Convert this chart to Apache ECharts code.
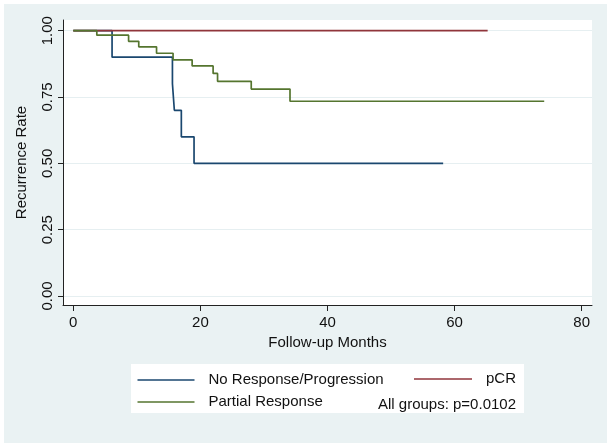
<!DOCTYPE html>
<html>
<head>
<meta charset="utf-8">
<script src="https://cdn.jsdelivr.net/npm/echarts@6/dist/echarts.min.js"></script>
<style>
  html, body { margin: 0; padding: 0; background: #ffffff; }
  #chart { position: absolute; left: 4px; top: 4px; width: 603px; height: 439px; }
</style>
</head>
<body>
<div id="chart"></div>
<script>
// ---- data ----
const noRespX = [0, 6.1, 15.6, 15.9, 17.0, 19.0, 58.2];
const noRespY = [1, 0.9, 0.8, 0.7, 0.6, 0.5, 0.5];
const partialX = [0, 3.7, 8.7, 10.3, 13.1, 15.7, 18.7, 22.0, 22.7, 28.0, 34.1, 74.1];
const partialY = [1, 0.983, 0.960, 0.939, 0.915, 0.890, 0.867, 0.839, 0.809, 0.780, 0.734, 0.734];
const pcrX = [0, 65.2];
const pcrY = [1, 1];
const xTicks = [0, 20, 40, 60, 80];
const yTicks = [0, 0.25, 0.5, 0.75, 1];
const seriesNames = ['No Response/Progression', 'pCR', 'Partial Response'];
const pText = 'All groups: p=0.0102';

const zip = (xs, ys) => xs.map((x, i) => [x, ys[i]]);
const FONT = '"Liberation Sans", Arial, sans-serif';
const TXT = '#111111';

const chart = echarts.init(document.getElementById('chart'), null, { renderer: 'canvas' });
chart.setOption({
  backgroundColor: '#eaf2f3',
  animation: false,
  textStyle: { fontFamily: FONT },
  graphic: [{
    type: 'rect', z: 0,
    shape: { x: 127, y: 360, width: 393, height: 49 },
    style: { fill: '#ffffff' }
  }],
  title: {
    text: pText, right: 91, top: 392, padding: 0, z: 5,
    textStyle: { fontFamily: FONT, fontSize: 15, fontWeight: 'normal', color: TXT, lineHeight: 17 }
  },
  legend: [{
    data: [seriesNames[0], seriesNames[2]],
    orient: 'vertical', left: 133.5, top: 368, padding: 0, z: 5,
    icon: 'rect', itemWidth: 57, itemHeight: 1.6, itemGap: 6,
    textStyle: { fontFamily: FONT, fontSize: 15, color: TXT, lineHeight: 16, padding: [0, 0, 0, 9] }
  }, {
    data: [seriesNames[1]],
    orient: 'vertical', left: 410, top: 367, padding: 0, z: 5,
    icon: 'rect', itemWidth: 58, itemHeight: 1.6,
    textStyle: { fontFamily: FONT, fontSize: 15, color: TXT, lineHeight: 16, padding: [0, 0, 0, 9] }
  }],
  grid: {
    left: 59, right: 15, top: 16, bottom: 138,
    show: true, backgroundColor: '#ffffff', borderWidth: 0
  },
  xAxis: {
    type: 'value', min: -1.62, max: 81.62,
    name: 'Follow-up Months', nameLocation: 'middle', nameGap: 30,
    nameTextStyle: { fontFamily: FONT, fontSize: 15, color: TXT },
    axisLine: { show: true, onZero: false, lineStyle: { color: '#222', width: 1 } },
    axisTick: { show: true, length: 6, customValues: xTicks, lineStyle: { color: '#222' } },
    axisLabel: { customValues: xTicks, margin: 10, fontFamily: FONT, fontSize: 15, color: TXT },
    splitLine: { show: false }
  },
  yAxis: {
    type: 'value', min: -0.034, max: 1.0403,
    name: 'Recurrence Rate', nameLocation: 'middle', nameGap: 34, nameRotate: 90,
    nameTextStyle: { fontFamily: FONT, fontSize: 15, color: TXT },
    axisLine: { show: true, onZero: false, lineStyle: { color: '#222', width: 1 } },
    axisTick: { show: true, length: 5, customValues: yTicks, lineStyle: { color: '#222' } },
    axisLabel: { customValues: yTicks, rotate: 90, margin: 8, fontFamily: FONT, fontSize: 15, color: TXT,
                 formatter: v => v.toFixed(2) },
    splitLine: { show: true, lineStyle: { color: '#e6eff1', width: 1.2 } }
  },
  series: [{
    name: seriesNames[0], type: 'line', step: 'end', symbol: 'none',
    data: zip(noRespX, noRespY), color: '#1a476f', lineStyle: { width: 1.7 }, z: 2
  }, {
    name: seriesNames[1], type: 'line', step: 'end', symbol: 'none',
    data: zip(pcrX, pcrY), color: '#90353b', lineStyle: { width: 1.7 }, z: 3
  }, {
    name: seriesNames[2], type: 'line', step: 'end', symbol: 'none',
    data: zip(partialX, partialY), color: '#55752f', lineStyle: { width: 1.7 }, z: 4
  }]
});
</script>
</body>
</html>
